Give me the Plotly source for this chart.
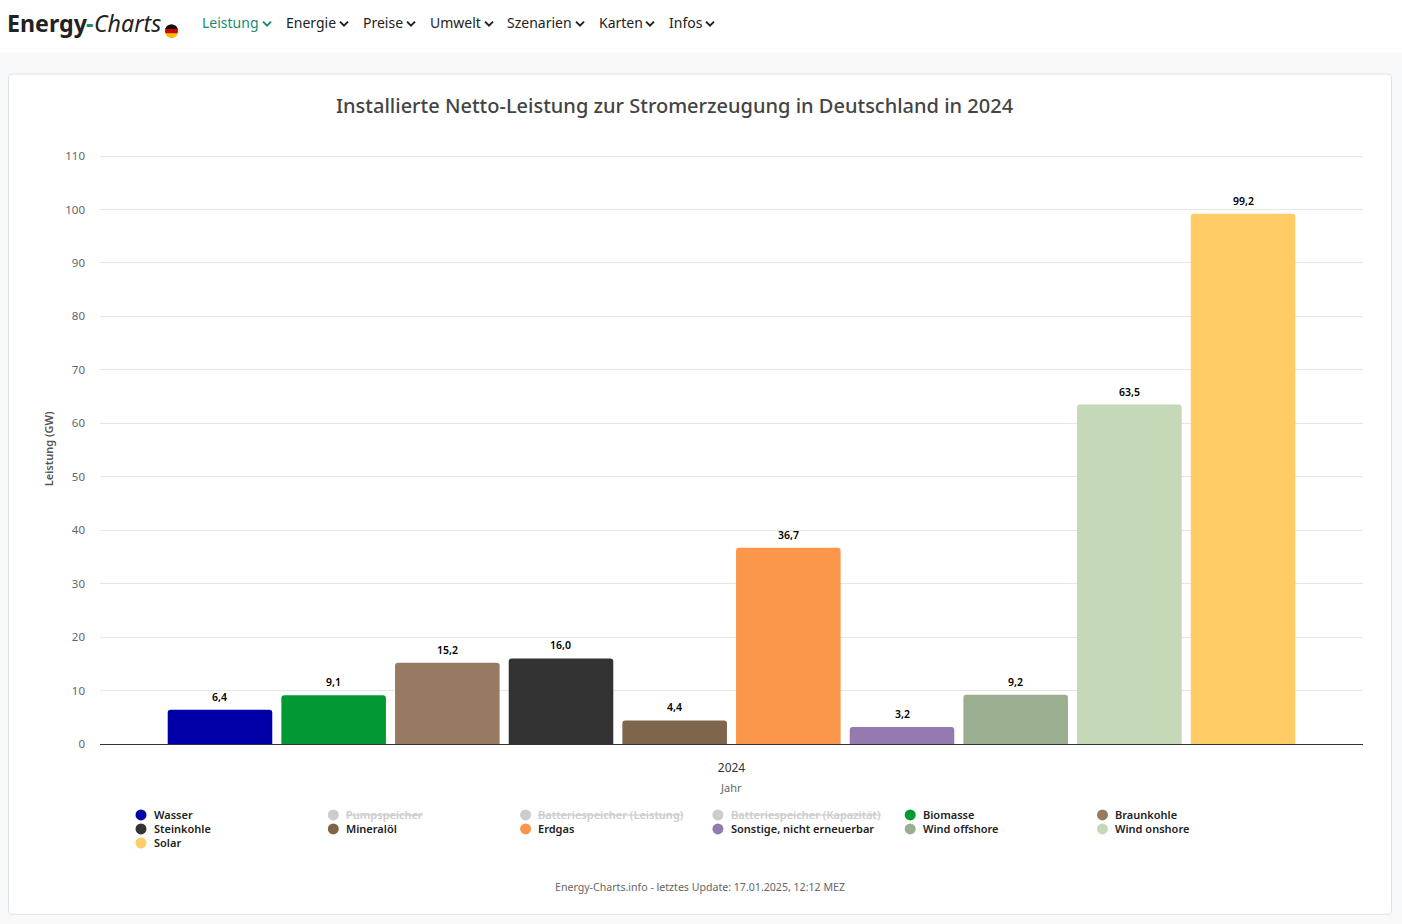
import plotly.graph_objects as go

# ---- data ----
year = ["2024"]
bar_names = ["Wasser", "Biomasse", "Braunkohle", "Steinkohle", "Mineralöl", "Erdgas",
             "Sonstige, nicht erneuerbar", "Wind offshore", "Wind onshore", "Solar"]
bar_values = [6.4, 9.1, 15.2, 16.0, 4.4, 36.7, 3.2, 9.2, 63.5, 99.2]
bar_colors = ["#0000a8", "#009933", "#967b62", "#333333", "#7f654c", "#fb964b",
              "#957ab0", "#9bae8f", "#c5d8b8", "#ffcc66"]
legend_names = ["Wasser", "Pumpspeicher", "Batteriespeicher (Leistung)", "Batteriespeicher (Kapazität)",
                "Biomasse", "Braunkohle", "Steinkohle", "Mineralöl", "Erdgas",
                "Sonstige, nicht erneuerbar", "Wind offshore", "Wind onshore", "Solar"]
legend_hidden = ["Pumpspeicher", "Batteriespeicher (Leistung)", "Batteriespeicher (Kapazität)"]
nav_items = ["Leistung", "Energie", "Preise", "Umwelt", "Szenarien", "Karten", "Infos"]
nav_x = [202, 286, 363, 430, 507, 599, 669]
nav_chevron_x = [267, 344, 411, 489, 580, 650, 710]
title = "Installierte Netto-Leistung zur Stromerzeugung in Deutschland in 2024"
footer = "Energy-Charts.info - letztes Update: 17.01.2025, 12:12 MEZ"

W, H = 1402, 924
ML, MR, MT, MB = 100, 39, 154.5, 180
PW, PH = W - ML - MR, H - MT - MB
FONT = "Noto Sans"
def px(v): return (v - ML) / PW
def py(v): return (H - MB - v) / PH

shapes, ann = [], []
fig = go.Figure()
GROUP_PITCH = PW * 0.9 / len(bar_values)
for i, (n, v, c) in enumerate(zip(bar_names, bar_values, bar_colors)):
    fig.add_bar(name=n, x=year, y=[v], marker=dict(color=c, line=dict(width=0)), showlegend=False)
    ann.append(dict(xref="x", yref="y", x=0, y=v, text=f"{v:.1f}".replace(".", ","), showarrow=False,
                    xanchor="center", yanchor="middle", yshift=13,
                    xshift=(i - (len(bar_values) - 1) / 2) * GROUP_PITCH,
                    font=dict(family=FONT, size=10.5, color="#000000", weight=600)))

def rect(x0, y0, x1, y1, fill, line=None, layer="below"):
    shapes.append(dict(type="rect", xref="paper", yref="paper", x0=px(x0), x1=px(x1), y0=py(y0), y1=py(y1),
                       fillcolor=fill, line=dict(color=line or fill, width=1 if line else 0), layer=layer))
def text(x, y, s, size, color, anchor="left", weight=400, family=FONT, style="normal"):
    ann.append(dict(xref="paper", yref="paper", x=px(x), y=py(y), text=s, showarrow=False, xanchor=anchor,
                    yanchor="middle", borderpad=0, borderwidth=0,
                    font=dict(family=family, size=size, color=color, weight=weight, style=style)))

# page chrome
rect(0, 52, W, H, "#f8f9fa")
shapes.append(dict(type="path", xref="paper", yref="paper", layer="below", fillcolor="#ffffff",
                   line=dict(color="#dfe2e5", width=1),
                   path="M %f %f L %f %f Q %f %f %f %f L %f %f Q %f %f %f %f L %f %f Q %f %f %f %f L %f %f Q %f %f %f %f Z" % (
                       px(12), py(73.5), px(1388), py(73.5), px(1391.5), py(73.5), px(1391.5), py(77),
                       px(1391.5), py(911), px(1391.5), py(914.5), px(1388), py(914.5),
                       px(12), py(914.5), px(8.5), py(914.5), px(8.5), py(911),
                       px(8.5), py(77), px(8.5), py(73.5), px(12), py(73.5))))

# logo
text(7, 22.5, "Energy", 23.2, "#222222", weight=700)
text(86, 22.5, "-", 23.2, "#1b8a72", weight=700)
text(94, 22.5, "Charts", 23.2, "#222222", style="italic")
# flag
shapes.append(dict(type="circle", xref="paper", yref="paper", x0=px(165), x1=px(178), y0=py(37), y1=py(24),
                   fillcolor="#d00000", line=dict(width=0), layer="above"))
shapes.append(dict(type="path", xref="paper", yref="paper", layer="above", fillcolor="#111111", line=dict(width=0),
                   path="M %f %f Q %f %f %f %f Q %f %f %f %f Z" % (px(165.2), py(28.5), px(167), py(24), px(171.5), py(24),
                                                                  px(176), py(24), px(177.8), py(28.5))))
shapes.append(dict(type="path", xref="paper", yref="paper", layer="above", fillcolor="#f5c400", line=dict(width=0),
                   path="M %f %f Q %f %f %f %f Q %f %f %f %f Z" % (px(165.2), py(32.7), px(167), py(37), px(171.5), py(37),
                                                                  px(176), py(37), px(177.8), py(32.7))))

# navigation
for i, (s, x, cx) in enumerate(zip(nav_items, nav_x, nav_chevron_x)):
    c = "#1b8a72" if i == 0 else "#222222"
    text(x, 22, s, 14, c)
    shapes.append(dict(type="path", xref="paper", yref="paper", layer="above", line=dict(color=c, width=2),
                       path="M %f %f L %f %f L %f %f" % (px(cx - 4), py(21), px(cx), py(25), px(cx + 4), py(21))))

# titles
text(674.5, 105, title, 20, "#444444", anchor="center", weight=500)
text(48, 449, "Leistung (GW)", 11, "#555555", anchor="center", weight=600)
ann[-1]["textangle"] = -90
text(731, 788, "Jahr", 11, "#666666", anchor="center")
text(700, 887, footer, 10.6, "#666666", anchor="center")

# legend
for i, n in enumerate(legend_names):
    col, row = i % 6, i // 6
    lx, ly = 141 + col * 192.3, 815 + row * 14
    hidden = n in legend_hidden
    c = "#cccccc" if hidden else bar_colors[bar_names.index(n)]
    shapes.append(dict(type="circle", xref="paper", yref="paper", x0=px(lx - 5.5), x1=px(lx + 5.5),
                       y0=py(ly + 5.5), y1=py(ly - 5.5), fillcolor=c, line=dict(width=0), layer="above"))
    text(lx + 12.7, ly, f"<s>{n}</s>" if hidden else n, 11, "#cccccc" if hidden else "#222222", weight=600)

fig.update_layout(
    width=W, height=H, autosize=False,
    margin=dict(l=ML, r=MR, t=MT, b=MB, pad=0),
    paper_bgcolor="#ffffff", plot_bgcolor="rgba(0,0,0,0)",
    font=dict(family=FONT, size=11, color="#666666"),
    barmode="group", bargap=0.1, bargroupgap=0.08, barcornerradius=3,
    separators=",.", showlegend=False, shapes=shapes, annotations=ann,
    xaxis=dict(type="category", range=[-0.5, 0.5], showgrid=False, showline=True, linecolor="#333333", linewidth=1,
               ticks="", ticklabelstandoff=13, tickfont=dict(family=FONT, size=12, color="#333333")),
    yaxis=dict(range=[0, 110.2], tick0=0, dtick=10, gridcolor="#e6e6e6", gridwidth=1, zeroline=False,
               showline=False, ticks="", ticklabelstandoff=14, tickfont=dict(family=FONT, size=11.5, color="#666666")),
)
fig.write_html("out.html", config=dict(displayModeBar=False),
               post_script="document.body.style.margin='0';document.body.style.overflow='hidden';")
